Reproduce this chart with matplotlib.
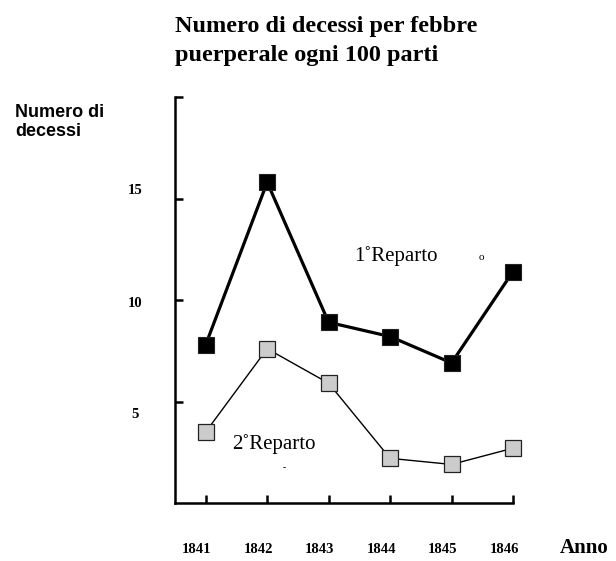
import matplotlib
matplotlib.use("Agg")
import matplotlib.pyplot as plt
from matplotlib.transforms import ScaledTranslation

anni = [1841, 1842, 1843, 1844, 1845, 1846]
reparto1 = [7.8, 15.8, 8.9, 8.2, 6.9, 11.4]
reparto2 = [3.5, 7.6, 5.9, 2.2, 1.9, 2.7]
y_ticks = [5, 10, 15, 20]
y_tick_labels = ["5", "10", "15", ""]
x_tick_labels = [str(a) for a in anni]

SERIF = ["Liberation Serif", "DejaVu Serif"]
SANS = ["Liberation Sans", "DejaVu Sans"]

fig = plt.figure(figsize=(6.16, 5.61), dpi=100)
ax = fig.add_axes([175 / 616, 1 - 503 / 561, (513 - 175) / 616, (503 - 97) / 561])

ax.plot(anni, reparto1, color="black", lw=2.3, marker="s", ms=12,
        mfc="black", mec="#222222", mew=0.8, zorder=3, clip_on=False)
ax.plot(anni, reparto2, color="black", lw=1.0, marker="s", ms=11.5,
        mfc="#cccccc", mec="#222222", mew=0.9, zorder=3, clip_on=False)

ax.set_xlim(1840.5, 1846)
ax.set_ylim(0, 20)

for s in ["top", "right"]:
    ax.spines[s].set_visible(False)
for s in ["left", "bottom"]:
    ax.spines[s].set_linewidth(1.8)

ax.set_xticks(anni)
ax.set_xticklabels(x_tick_labels, family=SERIF, weight="bold", fontsize=10.5)
ax.set_yticks(y_ticks)
ax.set_yticklabels(y_tick_labels, family=SERIF, weight="bold", fontsize=10.5, ha="center")
ax.tick_params(axis="x", direction="in", length=6, width=1.8, pad=29)
ax.tick_params(axis="y", direction="in", length=6, width=1.8, pad=29)

# labels in the original sit a bit off their ticks
for lbl in ax.get_xticklabels():
    lbl.set_transform(lbl.get_transform() + ScaledTranslation(-9 / 100, 0, fig.dpi_scale_trans))
y_shift = [11, 2, -10, 0]  # pixels down
for lbl, dy in zip(ax.get_yticklabels(), y_shift):
    lbl.set_transform(lbl.get_transform() + ScaledTranslation(0, -dy / 100, fig.dpi_scale_trans))

fig.text(175 / 616, 1 - 41 / 561, "Numero di decessi per febbre\npuerperale ogni 100 parti",
         family=SERIF, weight="bold", fontsize=17.5, ha="left", va="center", linespacing=1.5)
fig.text(15 / 616, 1 - 122 / 561, "Numero di\ndecessi", family=SANS, weight="bold",
         fontsize=13, ha="left", va="center", linespacing=1.15)
fig.text(584 / 616, 1 - 548 / 561, "Anno", family=SERIF, weight="bold",
         fontsize=15, ha="center", va="center")

ax.text(1843.42, 12.15, "1˚Reparto", family=SERIF, fontsize=15, ha="left", va="center")
ax.text(1845.49, 12.1, "o", family=SERIF, fontsize=8, ha="center", va="center")
ax.text(1841.43, 2.9, "2˚Reparto", family=SERIF, fontsize=15, ha="left", va="center")
ax.text(1842.28, 1.75, "-", family=SERIF, fontsize=7, ha="center", va="center")

fig.savefig("out.png", dpi=100)
